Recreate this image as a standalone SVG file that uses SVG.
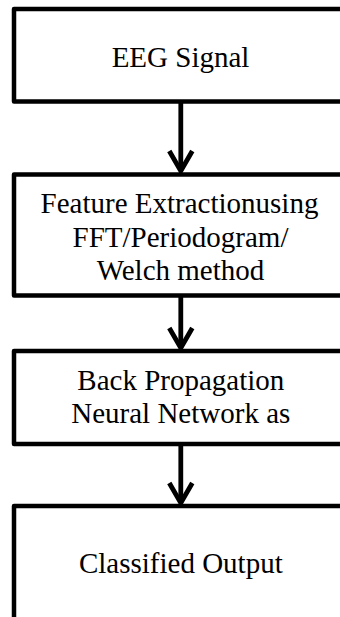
<svg xmlns="http://www.w3.org/2000/svg" width="340" height="617" viewBox="0 0 340 617">
  <defs>
    <style>
      .box { fill: #ffffff; stroke: #000000; stroke-width: 4.5; stroke-linejoin: round; }
      .lbl { font-family: "Liberation Serif", "Times New Roman", serif; font-size: 29px; fill: #000000; text-anchor: middle; }
      .edge { stroke: #000000; stroke-width: 4.8; fill: none; }
    </style>
    <marker id="chevron" markerUnits="userSpaceOnUse" orient="auto" refX="0" refY="0" markerWidth="30" markerHeight="30" overflow="visible">
      <path d="M-20,-11.5 L0,0 L-20,11.5" fill="none" stroke="#000000" stroke-width="4.8" stroke-linejoin="miter"/>
    </marker>
  </defs>
  <rect width="340" height="617" fill="#ffffff"/>

  <g id="connectors">
    <line class="edge" x1="180.8" y1="101.5" x2="180.8" y2="171" marker-end="url(#chevron)"/>
    <line class="edge" x1="180.8" y1="295.5" x2="180.8" y2="348" marker-end="url(#chevron)"/>
    <line class="edge" x1="180.8" y1="444" x2="180.8" y2="503" marker-end="url(#chevron)"/>
  </g>

  <g id="eeg-signal">
    <rect class="box" x="14" y="9" width="360" height="92.5"/>
    <text class="lbl" x="180.5" y="67">EEG Signal</text>
  </g>

  <g id="feature-extraction">
    <rect class="box" x="14" y="174.5" width="360" height="121"/>
    <text class="lbl" x="179.5" y="213.3">Feature Extractionusing</text>
    <text class="lbl" x="180.5" y="246.7">FFT/Periodogram/</text>
    <text class="lbl" x="180.5" y="280">Welch method</text>
  </g>

  <g id="bpnn">
    <rect class="box" x="14" y="351" width="360" height="93"/>
    <text class="lbl" x="180.8" y="390">Back Propagation</text>
    <text class="lbl" x="180.8" y="423.3">Neural Network as</text>
  </g>

  <g id="classified-output">
    <rect class="box" x="14" y="506" width="360" height="160"/>
    <text class="lbl" x="180.8" y="573.3">Classified Output</text>
  </g>
</svg>
